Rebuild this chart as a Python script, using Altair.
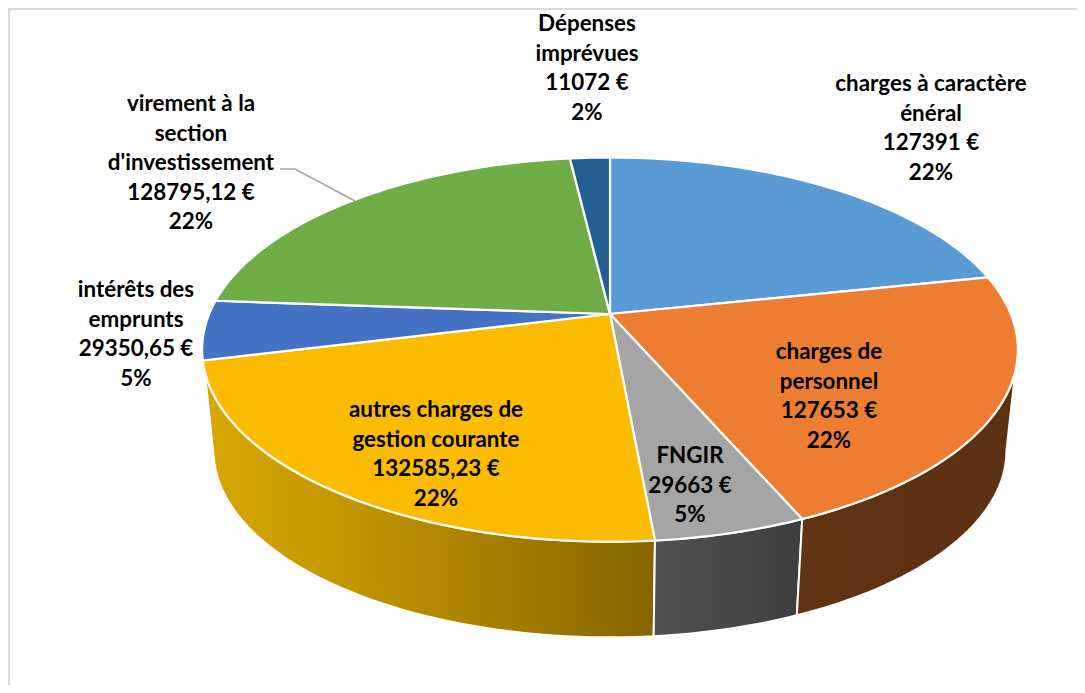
import math
import altair as alt
import pandas as pd

# ---- data ----
categories = ["charges à caractère général", "charges de personnel", "FNGIR",
              "autres charges de gestion courante", "intérêts des emprunts",
              "virement à la section d'investissement", "Dépenses imprévues"]
values = [127391, 127653, 29663, 132585.23, 29350.65, 128795.12, 11072]
top_colors = ["#5b9bd5", "#ed7d31", "#a5a5a5", "#fbbc00", "#4472c4", "#70ad47", "#255e91"]
label_lines = [
    ["charges à caractère", "énéral", "127391 €", "22%"],
    ["charges de", "personnel", "127653 €", "22%"],
    ["FNGIR", "29663 €", "5%"],
    ["autres charges de", "gestion courante", "132585,23 €", "22%"],
    ["intérêts des", "emprunts", "29350,65 €", "5%"],
    ["virement à la", "section", "d'investissement", "128795,12 €", "22%"],
    ["Dépenses", "imprévues", "11072 €", "2%"],
]

# ---- layout (page pixels) ----
W, H = 1069, 677
CX, CY = 610.0, 314.0
A, B, K = 400.8, 185.5, 0.1854
SHRINK, Y_BOTTOM = 0.972, 416.0
label_x = [931, 829, 690, 436, 136, 191, 587]
label_y = [84, 352, 456, 410, 290, 104, 24]
LINE_H = 29.5
leader_x = [280, 295, 355]
leader_y = [169, 169, 201]
frame_x = [9, 9, 1077]
frame_y = [685, 9, 9]
wall_fill = {
    1: alt.Gradient(gradient="linear", x1=0, x2=1, y1=0, y2=0,
                    stops=[alt.GradientStop(color="#623315", offset=0),
                           alt.GradientStop(color="#5c3013", offset=1)]),
    2: alt.Gradient(gradient="linear", x1=0, x2=1, y1=0, y2=0,
                    stops=[alt.GradientStop(color="#525252", offset=0),
                           alt.GradientStop(color="#3e3e3e", offset=1)]),
    3: alt.Gradient(gradient="linear", x1=0, x2=1, y1=0, y2=0,
                    stops=[alt.GradientStop(color="#d8a700", offset=0),
                           alt.GradientStop(color="#c49700", offset=0.3),
                           alt.GradientStop(color="#866500", offset=1)]),
}

xs = alt.Scale(domain=[8, 8 + W], range=[0, W])
ys = alt.Scale(domain=[8, 8 + H], range=[0, H])


def top_pt(deg):
    t = math.radians(deg)
    X, Y = math.sin(t), math.cos(t)
    d = 1 + K * Y
    return CX + A * X / d, CY - B * Y / d


def bottom_pt(deg):
    t = math.radians(deg)
    X, Y = math.sin(t), math.cos(t)
    d = 1 + K * Y
    return CX + SHRINK * A * X / d, Y_BOTTOM - SHRINK * B * Y / d


def arc(fn, a, b):
    n = max(2, int(abs(b - a) / 1.5))
    return [fn(a + (b - a) * i / n) for i in range(n + 1)]


def polygon(pts, fill, sw):
    pts = pts + [pts[0]]
    df = pd.DataFrame({"x": [p[0] for p in pts], "y": [p[1] for p in pts], "i": range(len(pts))})
    return alt.Chart(df).mark_line(fill=fill, stroke="white", strokeWidth=sw, strokeJoin="round",
                                   clip=False).encode(
        x=alt.X("x:Q", scale=xs, axis=None),
        y=alt.Y("y:Q", scale=ys, axis=None),
        order="i:Q",
    )


total = sum(values)
edges = [0.0]
for v in values:
    edges.append(edges[-1] + 360.0 * v / total)

layers = []

# frame
frame_df = pd.DataFrame({"x": frame_x, "y": frame_y, "i": range(3)})
layers.append(alt.Chart(frame_df).mark_line(color="#d9d9d9", strokeWidth=2).encode(
    x=alt.X("x:Q", scale=xs, axis=None), y=alt.Y("y:Q", scale=ys, axis=None), order="i:Q"))

# side walls
for idx in [3, 2, 1]:
    a, b = edges[idx], edges[idx + 1]
    top = arc(top_pt, max(a, 107.0), min(b, 253.0))
    bot = arc(bottom_pt, max(a, 100.7), min(b, 259.3))
    layers.append(polygon(top + bot[::-1], wall_fill[idx], 2.0))

# top slices
for idx, c in enumerate(top_colors):
    layers.append(polygon([(CX, CY)] + arc(top_pt, edges[idx], edges[idx + 1]), c, 2.2))

# leader
leader_df = pd.DataFrame({"x": leader_x, "y": leader_y, "i": range(3)})
layers.append(alt.Chart(leader_df).mark_line(color="#a6a6a6", strokeWidth=1.5).encode(
    x=alt.X("x:Q", scale=xs, axis=None), y=alt.Y("y:Q", scale=ys, axis=None), order="i:Q"))

# labels
rows = []
for lines, lx, ly in zip(label_lines, label_x, label_y):
    for j, s in enumerate(lines):
        rows.append({"x": lx, "y": ly + j * LINE_H, "t": s})
layers.append(alt.Chart(pd.DataFrame(rows)).mark_text(
    font="Lato", fontWeight="bold", fontSize=22.4, color="black", align="center", baseline="middle"
).encode(x=alt.X("x:Q", scale=xs, axis=None), y=alt.Y("y:Q", scale=ys, axis=None), text="t:N"))

chart = alt.layer(*layers).properties(
    width=W, height=H, padding=0, autosize=alt.AutoSizeParams(type="none"), background="white"
).configure_view(stroke=None)

chart.save("out.html", embed_options={"renderer": "svg", "actions": False})
